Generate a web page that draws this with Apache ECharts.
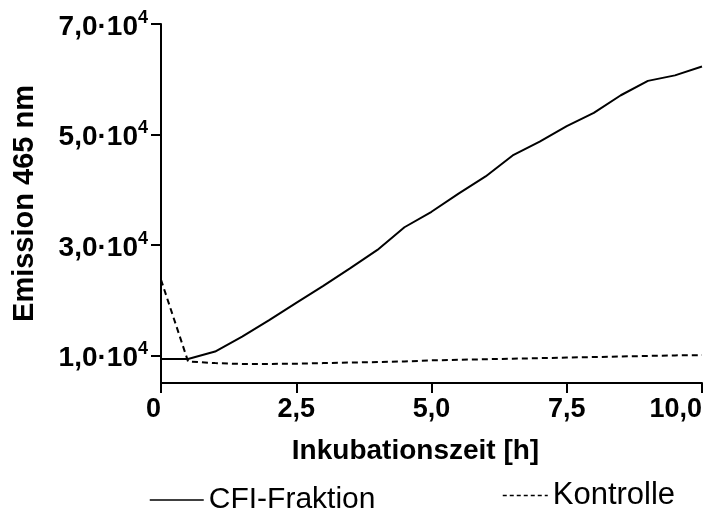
<!DOCTYPE html>
<html>
<head>
<meta charset="utf-8">
<script src="https://cdn.jsdelivr.net/npm/echarts@6/dist/echarts.min.js"></script>
<style>
  html, body { margin: 0; padding: 0; background: #fff; }
  #chart { width: 725px; height: 512px; }
</style>
</head>
<body>
<div id="chart"></div>
<script>
// Zeitpunkte [h]
const hours = [0, 0.5, 1, 1.5, 2, 2.5, 3, 3.5, 4, 4.5, 5, 5.5, 6, 6.5, 7, 7.5, 8, 8.5, 9, 9.5, 10];
// Emission 465 nm
const cfiValues = [9350, 9350, 10700, 13400, 16400, 19500, 22600, 25800, 29100, 33200, 36000,
  39300, 42400, 46200, 48700, 51500, 53900, 57100, 59700, 60700, 62300];
const kontrolleValues = [23700, 8900, 8600, 8450, 8450, 8500, 8600, 8700, 8800, 8900, 9100,
  9200, 9300, 9400, 9500, 9600, 9700, 9800, 9900, 10000, 10050];
const yTicks = [10000, 30000, 50000, 70000];

const font = "'Liberation Sans', Arial, sans-serif";

function pairs(vals) {
  return hours.map((h, i) => [h, vals[i]]);
}

const option = {
  backgroundColor: "#fff",
  animation: false,
  textStyle: { fontFamily: font, color: "#000" },
  grid: { left: 161, right: 23, top: 24, bottom: 129, containLabel: false },
  legend: [
    {
      data: ["CFI-Fraktion"],
      left: 144,
      top: 480,
      itemWidth: 54,
      itemHeight: 14,
      itemStyle: { opacity: 0 },
      textStyle: { fontFamily: font, fontSize: 30, color: "#000" },
      lineStyle: { width: 1.5 }
    },
    {
      data: ["Kontrolle"],
      left: 497,
      top: 475,
      itemWidth: 45,
      itemHeight: 14,
      itemStyle: { opacity: 0 },
      textStyle: { fontFamily: font, fontSize: 31, color: "#000" },
      lineStyle: { width: 1.5, type: [4, 3] }
    }
  ],
  xAxis: {
    type: "value",
    min: 0,
    max: 10,
    interval: 2.5,
    name: "Inkubationszeit [h]",
    nameLocation: "middle",
    nameGap: 54,
    nameTextStyle: { fontFamily: font, fontSize: 28, fontWeight: "bold", color: "#000", padding: [0, 32, 0, 0] },
    axisLine: { lineStyle: { color: "#000", width: 2 } },
    axisTick: { length: 10, lineStyle: { color: "#000", width: 2 } },
    splitLine: { show: false },
    axisLabel: {
      margin: 13,
      fontFamily: font,
      fontSize: 27,
      fontWeight: "bold",
      color: "#000",
      alignMinLabel: "right",
      alignMaxLabel: "right",
      formatter: (v) => (v === 0 ? "0" : v.toFixed(1).replace(".", ","))
    }
  },
  yAxis: {
    type: "value",
    min: 5000,
    max: 70000,
    name: "Emission 465 nm",
    nameLocation: "middle",
    nameGap: 122,
    nameTextStyle: { fontFamily: font, fontSize: 29, fontWeight: "bold", color: "#000" },
    axisLine: { show: true, lineStyle: { color: "#000", width: 2 } },
    axisTick: { show: true, length: 10, customValues: yTicks, lineStyle: { color: "#000", width: 2 } },
    splitLine: { show: false },
    axisLabel: {
      margin: 13,
      customValues: yTicks,
      formatter: (v) => "{b|" + (v / 10000).toFixed(1).replace(".", ",") + "·10}{s|4}",
      rich: {
        b: { fontFamily: font, fontSize: 28, fontWeight: "bold", color: "#000", lineHeight: 30, padding: [6, 0, 0, 0] },
        s: { fontFamily: font, fontSize: 18, fontWeight: "bold", color: "#000", verticalAlign: "top", lineHeight: 18 }
      }
    }
  },
  series: [
    {
      name: "CFI-Fraktion",
      type: "line",
      data: pairs(cfiValues),
      symbol: "none",
      lineStyle: { color: "#000", width: 2 },
      itemStyle: { color: "#000" }
    },
    {
      name: "Kontrolle",
      type: "line",
      data: pairs(kontrolleValues),
      symbol: "none",
      lineStyle: { color: "#000", width: 2, type: [6, 4] },
      itemStyle: { color: "#000" }
    }
  ]
};

const myChart = echarts.init(document.getElementById("chart"));
myChart.setOption(option);
</script>
</body>
</html>
